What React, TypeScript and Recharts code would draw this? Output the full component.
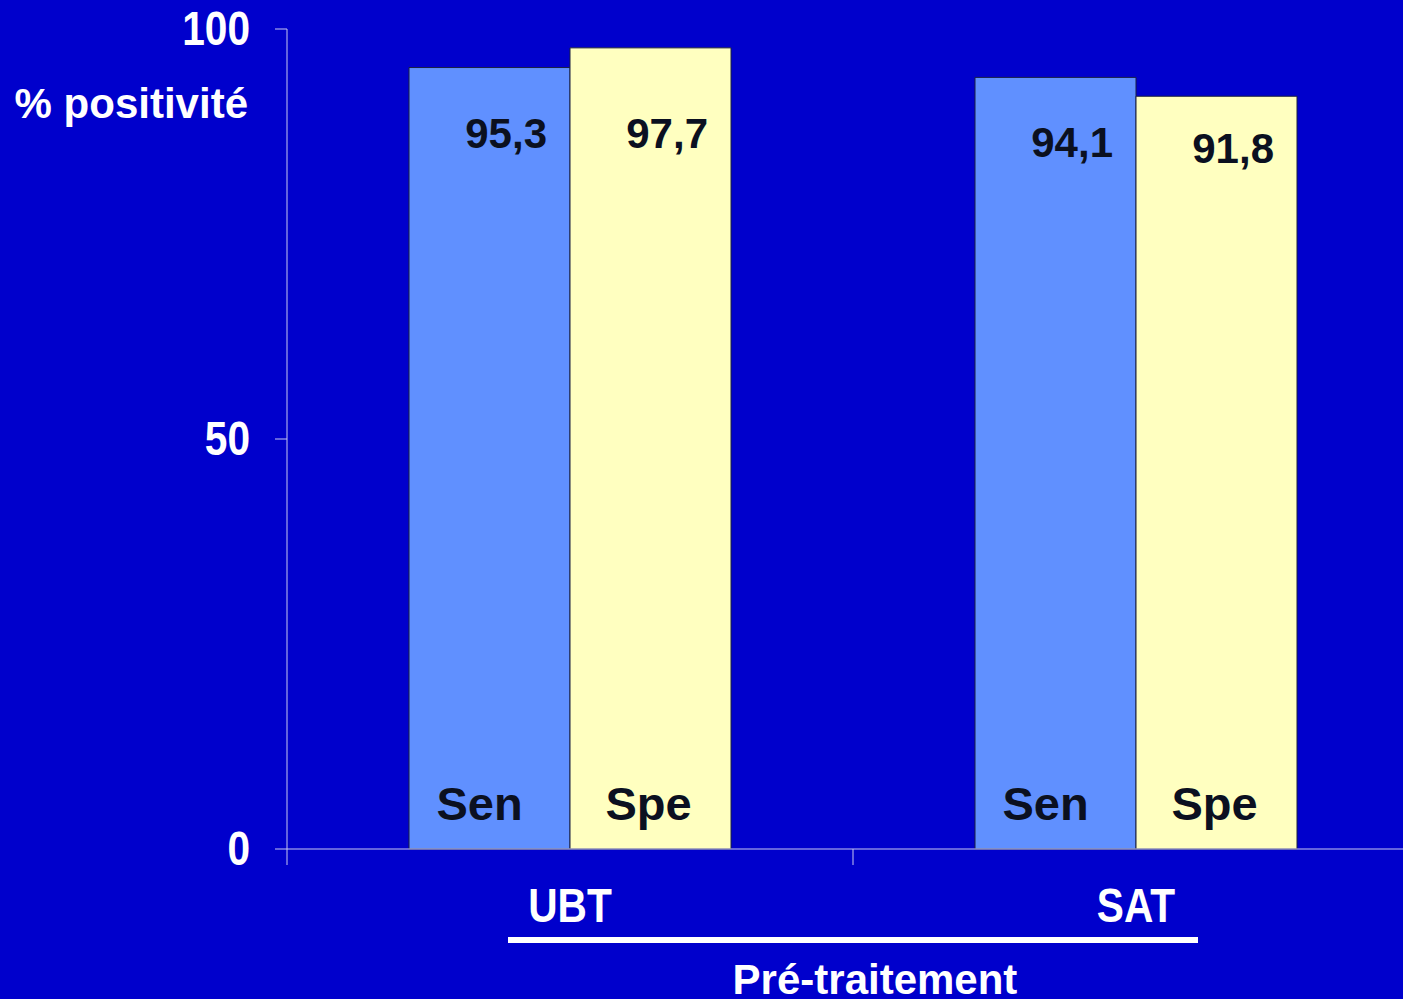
import React from 'react';
import { BarChart, Bar, XAxis, YAxis, LabelList, Label } from 'recharts';

// Breath test results before treatment
const categories = ['UBT', 'SAT'];
const senValues = [95.3, 94.1];
const speValues = [97.7, 91.8];
const seriesNames = ['Sen', 'Spe'];
const yTicks = [0, 50, 100];
const yAxisTitle = '% positivité';
const xAxisTitle = 'Pré-traitement';

const data = categories.map((name, i) => ({
  name,
  sen: senValues[i],
  spe: speValues[i],
}));

const CHART_W = 1419;
const CHART_H = 999;
const MARGIN = { top: 29, right: 0, bottom: 0, left: 0 };
const Y_AXIS_W = 287;
const X_AXIS_H = 150;
const PLOT_W = CHART_W - Y_AXIS_W - MARGIN.left - MARGIN.right;

const BG = '#0000CC';
const AXIS = '#C8C8F0';
const SEN_FILL = '#6090FF';
const SPE_FILL = '#FFFFC0';
const DARK = '#0B1020';
const FONT = '"Liberation Sans", Arial, Helvetica, sans-serif';
const NARROW = 0.83;

const fmt = (v: number) => v.toFixed(1).replace('.', ',');

const YTick = (props: any) => {
  const { x, y, payload } = props;
  return (
    <text
      transform={`translate(${x},${y + 16}) scale(${NARROW},1)`}
      textAnchor="end"
      fill="#FFFFFF"
      fontFamily={FONT}
      fontWeight="bold"
      fontSize={49}
    >
      {payload.value}
    </text>
  );
};

const XTick = (props: any) => {
  const { x, y, payload, index } = props;
  const half = payload?.offset ?? PLOT_W / categories.length / 2;
  const last = index === categories.length - 1;
  return (
    <g>
      <line x1={x - half} x2={x - half} y1={y} y2={y + 16} stroke={AXIS} strokeWidth={1} />
      {last && <line x1={x + half} x2={x + half} y1={y} y2={y + 16} stroke={AXIS} strokeWidth={1} />}
      <text
        transform={`translate(${x},${y + 73}) scale(${NARROW},1)`}
        textAnchor="middle"
        fill="#FFFFFF"
        fontFamily={FONT}
        fontWeight="bold"
        fontSize={49}
      >
        {payload.value}
      </text>
    </g>
  );
};

const boxOf = (props: any) => {
  const vb = props.viewBox && props.viewBox.width !== undefined ? props.viewBox : props;
  return { x: Number(vb.x), y: Number(vb.y), width: Number(vb.width), height: Number(vb.height) };
};

// value sits a fixed depth under the bar top, kept inside a narrow band near the top of the plot
const ValueLabel = (props: any) => {
  const { x, y, width } = boxOf(props);
  const baseline = Math.min(Math.max(y + 80, MARGIN.top + 119), MARGIN.top + 134);
  return (
    <text
      x={x + width - 23}
      y={baseline}
      textAnchor="end"
      fill={DARK}
      fontFamily={FONT}
      fontWeight="bold"
      fontSize={42}
    >
      {fmt(Number(props.value))}
    </text>
  );
};

const makeNameLabel = (name: string, dx: number) => (props: any) => {
  const { x, y, width, height } = boxOf(props);
  return (
    <text
      x={x + width / 2 + dx}
      y={y + height - 29}
      textAnchor="middle"
      fill={DARK}
      fontFamily={FONT}
      fontWeight="bold"
      fontSize={47}
    >
      {name}
    </text>
  );
};

const YTitle = (props: any) => {
  const vb = props.viewBox ?? { x: 0, y: MARGIN.top };
  return (
    <text
      x={vb.x + 248}
      y={vb.y + 89}
      textAnchor="end"
      fill="#FFFFFF"
      fontFamily={FONT}
      fontWeight="bold"
      fontSize={42}
    >
      {yAxisTitle}
    </text>
  );
};

const XTitle = (props: any) => {
  const vb = props.viewBox ?? { x: Y_AXIS_W, y: CHART_H - X_AXIS_H, width: PLOT_W };
  const cx = vb.x + vb.width / 2;
  return (
    <g>
      <line x1={cx - 345} x2={cx + 345} y1={vb.y + 91} y2={vb.y + 91} stroke="#FFFFFF" strokeWidth={6} />
      <text
        x={cx + 22}
        y={vb.y + 145}
        textAnchor="middle"
        fill="#FFFFFF"
        fontFamily={FONT}
        fontWeight="bold"
        fontSize={42}
      >
        {xAxisTitle}
      </text>
    </g>
  );
};

export default function App() {
  return (
    <div
      style={{
        position: 'absolute',
        left: 0,
        top: 0,
        width: 1403,
        height: 999,
        overflow: 'hidden',
        background: BG,
      }}
    >
      <BarChart
        width={CHART_W}
        height={CHART_H}
        data={data}
        margin={MARGIN}
        barGap={0}
        barSize={161}
      >
        <XAxis
          dataKey="name"
          height={X_AXIS_H}
          axisLine={{ stroke: AXIS, strokeWidth: 1 }}
          tickLine={false}
          tickSize={0}
          tickMargin={0}
          tick={<XTick />}
          interval={0}
        >
          <Label content={<XTitle />} />
        </XAxis>
        <YAxis
          type="number"
          domain={[0, 100]}
          ticks={yTicks}
          width={Y_AXIS_W}
          axisLine={{ stroke: AXIS, strokeWidth: 1 }}
          tickLine={{ stroke: AXIS, strokeWidth: 1 }}
          tickSize={12}
          tickMargin={25}
          tick={<YTick />}
          interval={0}
        >
          <Label content={<YTitle />} />
        </YAxis>
        <Bar dataKey="sen" fill={SEN_FILL} stroke="#1A2040" strokeWidth={1} isAnimationActive={false}>
          <LabelList dataKey="sen" content={<ValueLabel />} />
          <LabelList dataKey="sen" content={makeNameLabel(seriesNames[0], -10)} />
        </Bar>
        <Bar dataKey="spe" fill={SPE_FILL} stroke="#1A2040" strokeWidth={1} isAnimationActive={false}>
          <LabelList dataKey="spe" content={<ValueLabel />} />
          <LabelList dataKey="spe" content={makeNameLabel(seriesNames[1], -2)} />
        </Bar>
      </BarChart>
    </div>
  );
}
